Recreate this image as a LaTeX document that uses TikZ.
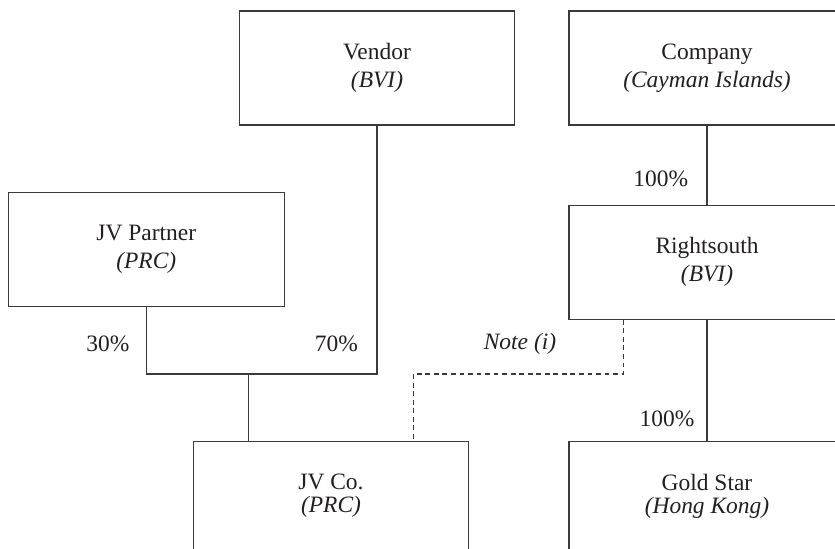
\documentclass[tikz,border=0pt]{standalone}
\usepackage{fontspec}
\setmainfont{Liberation Serif}
\usetikzlibrary{calc}
\definecolor{ink}{HTML}{231F20}
\definecolor{rule}{HTML}{3A3A3A}
\tikzset{
  every node/.style={text=ink},
  ent/.style={draw=rule, line width=0.8pt, rectangle, inner sep=0pt,
    minimum width=276*0.75pt, minimum height=114*0.75pt, align=center,
    font=\fontsize{17.6}{21}\selectfont},
  entlow/.style={ent, minimum height=108.6*0.75pt,
    font=\fontsize{17.6}{17.4}\selectfont},
  link/.style={draw=rule, line width=0.8pt},
  notelink/.style={link, dash pattern=on 3.6pt off 2.8pt},
  pct/.style={font=\fontsize{17.6}{21}\selectfont, inner sep=0pt},
}
\begin{document}
\begin{tikzpicture}[x=0.75pt, y=-0.75pt]
\useasboundingbox (0,0) rectangle (835,549);
\node[ent, minimum width=275.7*0.75pt] (vendor) at (377,68) {Vendor\\\textit{(BVI)}};
\node[ent] (company) at (707,68) {Company\\\textit{(Cayman Islands)}};
\node[ent] (jvp) at (146.3,249.7) {JV Partner\\\textit{(PRC)}};
\node[ent] (rs) at (707,262.3) {Rightsouth\\\textit{(BVI)}};
\node[entlow, minimum width=275.4*0.75pt] (jvco) at (331,496) {JV Co.\\\textit{(PRC)}};
\node[entlow] (gold) at (707,496) {Gold Star\\\textit{(Hong Kong)}};

\coordinate (j) at (248.3,374);
\coordinate (n1) at (413.3,374);

\draw[link] (jvp.south) |- (j) -| (vendor.south);
\draw[link] (j) -- (j |- jvco.north);
\draw[link] (company.south) -- (rs.north);
\draw[link] (rs.south) -- (gold.north);
\draw[notelink] ($(rs.south west)+(55,0)$) |- (n1) -- (n1 |- jvco.north);

\node[pct] (p30) at (108,344) {30\%};
\node[pct] (p70) at (336.5,344) {70\%};
\node[pct] (note) at (520,344) {\textit{Note (i)}};
\node[pct] (p100a) at (660.7,179.3) {100\%};
\node[pct] (p100b) at (667,419) {100\%};
\end{tikzpicture}
\end{document}
